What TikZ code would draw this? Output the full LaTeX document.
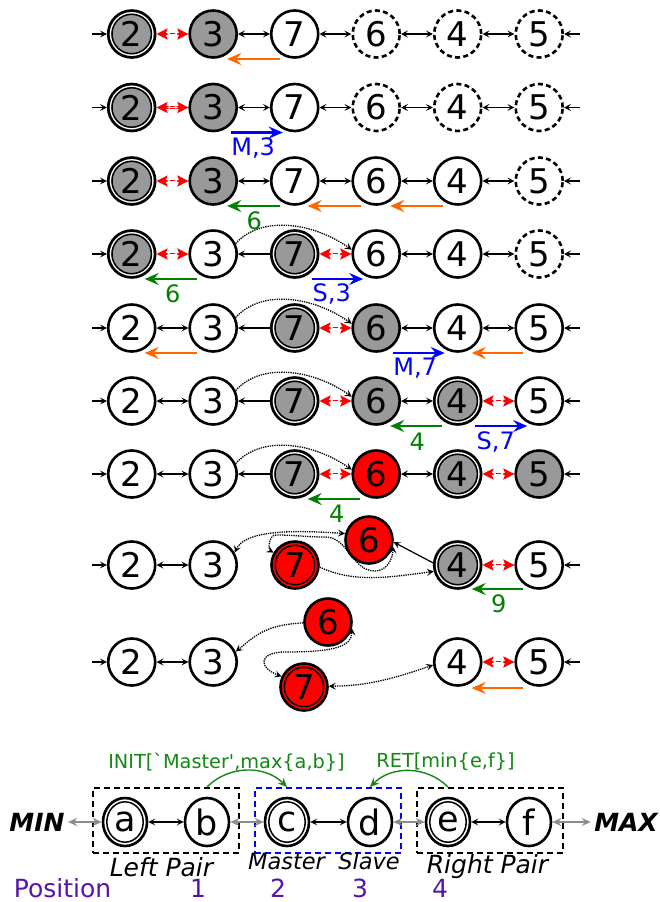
\documentclass[tikz,border=0pt]{standalone}
\usepackage{fontspec}
\setmainfont{DejaVu Sans}
\newfontfamily\rawfont{DejaVu Sans}[Ligatures=TeXOff]
\usetikzlibrary{arrows.meta,calc,shapes.geometric}
\definecolor{gfill}{RGB}{153,153,153}
\definecolor{orng}{RGB}{255,102,0}
\definecolor{grn}{RGB}{0,128,0}
\definecolor{lgrn}{RGB}{20,135,20}
\definecolor{blu}{RGB}{0,0,255}
\definecolor{purp}{RGB}{85,20,170}
\definecolor{garr}{RGB}{140,140,140}
\def\xa{131.7}\def\xb{213.2}\def\xc{294.7}\def\xd{376.2}\def\xe{457.7}\def\xf{539.2}
\newcommand\redlink[2]{%
  \draw[redl] (#1) -- (#2);
  \coordinate (rm) at ($(#1)!0.5!(#2)$);
  \draw[white,line width=0.8pt,{Stealth[length=3.5pt,width=3.6pt]}-{Stealth[length=3.5pt,width=3.6pt]}] ($(rm)+(-5.5,0)$) -- ($(rm)+(5.5,0)$);}
\newcommand\entries[2]{%
  \coordinate (#1L) at (92,#2); \coordinate (#1R) at (580,#2);
  \draw[ln1] (#1L) -- (#1c1); \draw[ln1] (#1R) -- (#1c6);}
\begin{document}
\begin{tikzpicture}[x=1pt,y=1pt,
  nd/.style={circle,draw,line width=2.6pt,minimum size=47pt,inner sep=0pt,fill=white,font=\fontsize{34}{34}\selectfont},
  gr/.style={fill=gfill},
  rd/.style={fill=red},
  ds/.style={dash pattern=on 5pt off 3.3pt},
  dbl/.style={path picture={\draw[draw=#1,line width=1.3pt] (path picture bounding box.center) circle (21.2pt);
     \draw[black,line width=1.5pt] (path picture bounding box.center) circle (19.7pt);}},
  dbl/.default=white,
  ln/.style={line width=1.2pt,{Stealth[length=7pt,width=7pt,inset=3pt]}-{Stealth[length=7pt,width=7pt,inset=3pt]}},
  ln1/.style={line width=1.2pt,-{Stealth[length=7pt,width=7pt,inset=3pt]}},
  redl/.style={red,line width=2.8pt,{Stealth[length=11pt,width=11pt,inset=2pt]}-{Stealth[length=11pt,width=11pt,inset=2pt]}},
  ca/.style={line width=2.6pt,-{Stealth[length=14pt,width=12pt,inset=5pt]}},
  dt/.style={line width=1.3pt,densely dotted},
  dtb/.style={dt,{Stealth[length=7pt,width=7pt,inset=3pt]}-{Stealth[length=7pt,width=7pt,inset=3pt]}},
  dte/.style={dt,-{Stealth[length=7pt,width=7pt,inset=3pt]}},
  lab/.style={font=\fontsize{24}{24}\selectfont},
  lg/.style={ellipse,draw,line width=2.6pt,minimum width=44pt,minimum height=48pt,inner sep=0pt,fill=white,font=\fontsize{35}{35}\selectfont},
  ldbl/.style={path picture={\draw[white,line width=1.3pt] (path picture bounding box.center) ellipse (19.7pt and 21.7pt);
     \draw[black,line width=1.5pt] (path picture bounding box.center) ellipse (18.2pt and 20.2pt);}},
  bx/.style={draw,line width=2pt,dash pattern=on 6pt off 4pt,minimum width=146pt,minimum height=65pt,inner sep=0pt},
  garrow/.style={garr,line width=2pt,{Stealth[length=9pt,width=8pt,inset=3pt]}-{Stealth[length=9pt,width=8pt,inset=3pt]}},
  iarc/.style={lgrn,line width=1.4pt,-{Stealth[length=9pt,width=8pt,inset=3pt]}}
]
\useasboundingbox (0,0) rectangle (660,-902);

% ---------- row 1
\node[nd,gr,dbl] (r1c1) at (\xa,-34) {2};
\node[nd,gr] (r1c2) at (\xb,-34) {3};
\node[nd] (r1c3) at (\xc,-34) {7};
\node[nd,ds] (r1c4) at (\xd,-34) {6};
\node[nd,ds] (r1c5) at (\xe,-34) {4};
\node[nd,ds] (r1c6) at (\xf,-34) {5};
\entries{r1}{-34}
\redlink{r1c1}{r1c2}
\draw[ln] (r1c2) -- (r1c3); \draw[ln] (r1c3) -- (r1c4); \draw[ln] (r1c4) -- (r1c5); \draw[ln] (r1c5) -- (r1c6);
\draw[ca,orng] ($(r1c3)+(-15,-25)$) -- ($(r1c2)+(14,-25)$);

% ---------- row 2
\node[nd,gr,dbl] (r2c1) at (\xa,-107.5) {2};
\node[nd,gr] (r2c2) at (\xb,-107.5) {3};
\node[nd] (r2c3) at (\xc,-107.5) {7};
\node[nd,ds] (r2c4) at (\xd,-107.5) {6};
\node[nd,ds] (r2c5) at (\xe,-107.5) {4};
\node[nd,ds] (r2c6) at (\xf,-107.5) {5};
\entries{r2}{-107.5}
\redlink{r2c1}{r2c2}
\draw[ln] (r2c2) -- (r2c3); \draw[ln] (r2c3) -- (r2c4); \draw[ln] (r2c4) -- (r2c5); \draw[ln] (r2c5) -- (r2c6);
\draw[ca,blu] ($(r2c2)+(18,-25)$) -- ($(r2c3)+(-12,-25)$);
\node[lab,blu] (l2) at ($(r2c2)+(40,-40)$) {M,3};

% ---------- row 3
\node[nd,gr,dbl] (r3c1) at (\xa,-181) {2};
\node[nd,gr] (r3c2) at (\xb,-181) {3};
\node[nd] (r3c3) at (\xc,-181) {7};
\node[nd] (r3c4) at (\xd,-181) {6};
\node[nd] (r3c5) at (\xe,-181) {4};
\node[nd,ds] (r3c6) at (\xf,-181) {5};
\entries{r3}{-181}
\redlink{r3c1}{r3c2}
\draw[ln] (r3c2) -- (r3c3); \draw[ln] (r3c3) -- (r3c4); \draw[ln] (r3c4) -- (r3c5); \draw[ln] (r3c5) -- (r3c6);
\draw[ca,grn] ($(r3c3)+(-15,-25)$) -- ($(r3c2)+(14,-25)$);
\node[lab,grn] (l3) at ($(r3c2)+(41,-40)$) {6};
\draw[ca,orng] ($(r3c4)+(-15,-25)$) -- ($(r3c3)+(13,-25)$);
\draw[ca,orng] ($(r3c5)+(-15,-25)$) -- ($(r3c4)+(14,-25)$);

% ---------- row 4
\node[nd,gr,dbl] (r4c1) at (\xa,-254) {2};
\node[nd] (r4c2) at (\xb,-254) {3};
\node[nd,gr,dbl] (r4c3) at (\xc,-254) {7};
\node[nd] (r4c4) at (\xd,-254) {6};
\node[nd] (r4c5) at (\xe,-254) {4};
\node[nd,ds] (r4c6) at (\xf,-254) {5};
\entries{r4}{-254}
\redlink{r4c1}{r4c2}
\draw[ln1] (r4c3) -- (r4c2);
\redlink{r4c3}{r4c4}
\draw[ln] (r4c4) -- (r4c5); \draw[ln] (r4c5) -- (r4c6);
\draw[dte] (r4c2.25) .. controls +(25,28) and +(-40,28) .. (r4c4.170);
\draw[ca,grn] ($(r4c2)+(-16,-25)$) -- ($(r4c1)+(13,-25)$);
\node[lab,grn] (l4a) at ($(r4c1)+(41,-40)$) {6};
\draw[ca,blu] ($(r4c3)+(17,-25)$) -- ($(r4c4)+(-13,-25)$);
\node[lab,blu] (l4b) at ($(r4c3)+(37,-40)$) {S,3};

% ---------- row 5
\node[nd] (r5c1) at (\xa,-328) {2};
\node[nd] (r5c2) at (\xb,-328) {3};
\node[nd,gr,dbl] (r5c3) at (\xc,-328) {7};
\node[nd,gr] (r5c4) at (\xd,-328) {6};
\node[nd] (r5c5) at (\xe,-328) {4};
\node[nd] (r5c6) at (\xf,-328) {5};
\entries{r5}{-328}
\draw[ln] (r5c1) -- (r5c2);
\draw[ln1] (r5c3) -- (r5c2);
\redlink{r5c3}{r5c4}
\draw[ln] (r5c4) -- (r5c5); \draw[ln] (r5c5) -- (r5c6);
\draw[dte] (r5c2.25) .. controls +(25,28) and +(-40,28) .. (r5c4.170);
\draw[ca,orng] ($(r5c2)+(-16,-25)$) -- ($(r5c1)+(13,-25)$);
\draw[ca,blu] ($(r5c4)+(17,-25)$) -- ($(r5c5)+(-13,-25)$);
\node[lab,blu] (l5) at ($(r5c4)+(39,-40)$) {M,7};
\draw[ca,orng] ($(r5c6)+(-16,-25)$) -- ($(r5c5)+(14,-25)$);

% ---------- row 6
\node[nd] (r6c1) at (\xa,-401) {2};
\node[nd] (r6c2) at (\xb,-401) {3};
\node[nd,gr,dbl] (r6c3) at (\xc,-401) {7};
\node[nd,gr] (r6c4) at (\xd,-401) {6};
\node[nd,gr,dbl] (r6c5) at (\xe,-401) {4};
\node[nd] (r6c6) at (\xf,-401) {5};
\entries{r6}{-401}
\draw[ln] (r6c1) -- (r6c2);
\draw[ln1] (r6c3) -- (r6c2);
\redlink{r6c3}{r6c4}
\draw[ln] (r6c4) -- (r6c5);
\redlink{r6c5}{r6c6}
\draw[dte] (r6c2.25) .. controls +(25,28) and +(-40,28) .. (r6c4.170);
\draw[ca,grn] ($(r6c5)+(-16,-25)$) -- ($(r6c4)+(14,-25)$);
\node[lab,grn] (l6a) at ($(r6c4)+(41,-41)$) {4};
\draw[ca,blu] ($(r6c5)+(17,-25)$) -- ($(r6c6)+(-12,-25)$);
\node[lab,blu] (l6b) at ($(r6c5)+(38,-41)$) {S,7};

% ---------- row 7
\node[nd] (r7c1) at (\xa,-474) {2};
\node[nd] (r7c2) at (\xb,-474) {3};
\node[nd,gr,dbl] (r7c3) at (\xc,-474) {7};
\node[nd,rd] (r7c4) at (\xd,-474) {6};
\node[nd,gr,dbl] (r7c5) at (\xe,-474) {4};
\node[nd,gr] (r7c6) at (\xf,-474) {5};
\entries{r7}{-474}
\draw[ln] (r7c1) -- (r7c2);
\draw[ln1] (r7c3) -- (r7c2);
\redlink{r7c3}{r7c4}
\draw[ln] (r7c4) -- (r7c5);
\redlink{r7c5}{r7c6}
\draw[dte] (r7c2.25) .. controls +(25,28) and +(-40,28) .. (r7c4.170);
\draw[ca,grn] ($(r7c4)+(-16,-25)$) -- ($(r7c3)+(13,-25)$);
\node[lab,grn] (l7) at ($(r7c3)+(42,-40)$) {4};

% ---------- row 8
\node[nd] (r8c1) at (\xa,-565) {2};
\node[nd] (r8c2) at (\xb,-565) {3};
\node[nd,rd,dbl=red] (r8c3) at (295,-565) {7};
\node[nd,rd] (r8c4) at (369,-540) {6};
\node[nd,gr,dbl] (r8c5) at (\xe,-565) {4};
\node[nd] (r8c6) at (\xf,-565) {5};
\entries{r8}{-565}
\draw[ln] (r8c1) -- (r8c2);
\redlink{r8c5}{r8c6}
\draw[ln1] (r8c5.175) -- (r8c4.-5);
\draw[dtb] (r8c2.30) .. controls +(10,22) and +(-55,4) .. (r8c4.165);
\draw[dtb] (r8c3.150) to[out=150,in=180] (276,-535) to[out=0,in=180] (325,-537)
   to[out=0,in=180] (375,-571) to[out=0,in=-90] (r8c4.-15);
\draw[dte] (r8c3.-5) .. controls +(35,-16) and +(-45,-6) .. (r8c5.195);
\draw[ca,grn] ($(r8c6)+(-16,-24)$) -- ($(r8c5)+(14,-24)$);
\node[lab,grn] (l8) at ($(r8c5)+(41,-39)$) {9};

% ---------- row 9
\node[nd] (r9c1) at (\xa,-662) {2};
\node[nd] (r9c2) at (\xb,-662) {3};
\node[nd,rd] (r9c4) at (328,-622) {6};
\node[nd,rd,dbl=red] (r9c3) at (304,-687) {7};
\node[nd] (r9c5) at (\xe,-662) {4};
\node[nd] (r9c6) at (\xf,-662) {5};
\entries{r9}{-662}
\draw[ln] (r9c1) -- (r9c2);
\redlink{r9c5}{r9c6}
\draw[dte] (r9c4.182) .. controls +(-40,-2) and +(18,14) .. (r9c2.25);
\draw[dtb] (r9c3.155) .. controls +(-25,10) and +(-25,0) .. (285,-652) .. controls +(50,0) and +(0,-18) .. (r9c4.-15);
\draw[dtb] (r9c3.2) .. controls +(40,0) and +(-35,-12) .. (r9c5.187);
\draw[ca,orng] ($(r9c6)+(-16,-26)$) -- ($(r9c5)+(14,-26)$);

% ---------- legend
\node[bx] (lbox) at (166,-820.5) {};
\node[bx,blu] (mbox) at (327.5,-820.5) {};
\node[bx] (rbox) at (489.5,-820.5) {};
\node[lg,ldbl] (la) at (125,-822) {a};
\node[lg] (lb) at (207,-822) {b};
\node[lg,ldbl] (lc) at (287,-822) {c};
\node[lg] (ld) at (370,-822) {d};
\node[lg,ldbl] (le) at (448,-822) {e};
\node[lg] (lf) at (529,-822) {f};
\node[font=\fontsize{25}{25}\selectfont\bfseries\itshape] (mn) at (37,-822) {MIN};
\node[font=\fontsize{25}{25}\selectfont\bfseries\itshape] (mx) at (626,-822) {MAX};
\draw[garrow] (mn) -- (la);
\draw[garrow] (lb) -- (lc);
\draw[garrow] (ld) -- (le);
\draw[garrow] (lf) -- (mx);
\draw[ln] (la) -- (lb); \draw[ln] (lc) -- (ld); \draw[ln] (le) -- (lf);
\draw[iarc] (lbox.north -| lb) to[bend left=45] (mbox.north -| lc);
\draw[iarc] (rbox.north -| le) to[bend right=45] (mbox.north -| ld);
\node[lgrn,font=\fontsize{19.3}{20}\rawfont] (tinit) at (226.5,-762) {INIT[`Master',max\{a,b\}]};
\node[lgrn,font=\fontsize{19.3}{20}\rawfont] (tret) at (445.5,-762) {RET[min\{e,f\}]};
\node[font=\fontsize{25}{25}\selectfont\itshape] (tlp) at (161.5,-867) {Left Pair};
\node[font=\fontsize{22.5}{23}\selectfont\itshape] (tms) at (286.5,-861) {Master};
\node[font=\fontsize{22.5}{23}\selectfont\itshape] (tsl) at (369,-861) {Slave};
\node[font=\fontsize{25}{25}\selectfont\itshape] (trp) at (487.5,-867) {Right Pair};
\node[purp,font=\fontsize{25}{25}\selectfont] (tpos) at (62.5,-888) {Position};
\node[purp,font=\fontsize{25}{25}\selectfont] (p1) at (198,-888) {1};
\node[purp,font=\fontsize{25}{25}\selectfont] (p2) at (278,-888) {2};
\node[purp,font=\fontsize{25}{25}\selectfont] (p3) at (360,-888) {3};
\node[purp,font=\fontsize{25}{25}\selectfont] (p4) at (440,-888) {4};
\end{tikzpicture}
\end{document}
